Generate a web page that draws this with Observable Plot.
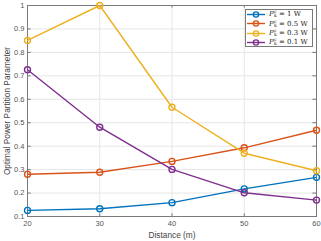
<!DOCTYPE html>
<html><head><meta charset="utf-8">
<script src="https://cdn.jsdelivr.net/npm/d3@7"></script>
<script src="https://cdn.jsdelivr.net/npm/@observablehq/plot@0.6"></script>
<style>
body{margin:0;background:#fff;}
#wrap{position:relative;width:321px;height:241px;}
#legend{position:absolute;left:245px;top:9px;width:68px;height:38px;border:1px solid #7a7a7a;background:#fff;font-family:"DejaVu Serif","Liberation Serif",serif;font-size:7px;color:#222;box-sizing:border-box;}
.row{position:absolute;left:0;height:9px;display:flex;align-items:center;}
.lab{margin-left:3px;white-space:nowrap;}
.ss{display:inline-flex;flex-direction:column;font-size:4.5px;line-height:4px;vertical-align:middle;margin-left:0.3px;}
</style></head>
<body><div id="wrap"></div>
<script>
const distances = [20, 30, 40, 50, 60];
const seriesNames = ["1 W", "0.5 W", "0.3 W", "0.1 W"];
const seriesColors = ["#0072BD", "#D95319", "#EDB120", "#7E2F8E"];
const p1W   = [0.126, 0.133, 0.159, 0.218, 0.267];
const p05W  = [0.280, 0.289, 0.335, 0.393, 0.468];
const p03W  = [0.851, 1.000, 0.566, 0.370, 0.295];
const p01W  = [0.726, 0.481, 0.301, 0.201, 0.170];
const xTicks = [20, 30, 40, 50, 60];
const yTicks = [0.1, 0.2, 0.3, 0.4, 0.5, 0.6, 0.7, 0.8, 0.9, 1];

const allSeries = [p1W, p05W, p03W, p01W];
const data = [];
allSeries.forEach((vals, i) => vals.forEach((v, j) => data.push({x: distances[j], y: v, s: seriesNames[i]})));

const tickLenX = 0.5, tickLenY = 0.011;
const plot = Plot.plot({
  width: 321, height: 241,
  marginLeft: 27, marginRight: 5, marginTop: 5, marginBottom: 25,
  style: {fontFamily: "'Liberation Sans', Arial, sans-serif", fontSize: "7.5px", color: "#555", background: "#fff"},
  x: {domain: [20, 60], ticks: xTicks, tickSize: 0, tickPadding: 4, label: "Distance (m)", labelAnchor: "center", labelOffset: 21, labelArrow: "none", grid: false},
  y: {domain: [0.1, 1], ticks: yTicks, tickSize: 0, tickPadding: 3, tickFormat: d => String(+d.toFixed(1)), label: "Optimal Power Partition Parameter", labelAnchor: "center", labelOffset: 23, labelArrow: "none"},
  color: {domain: seriesNames, range: seriesColors},
  marks: [
    Plot.gridX(xTicks, {stroke: "#e6e6e6", strokeOpacity: 1}),
    Plot.gridY(yTicks, {stroke: "#e6e6e6", strokeOpacity: 1}),
    Plot.ruleX(xTicks, {x: d => d, y1: 0.1, y2: 0.1 + tickLenY, stroke: "#777"}),
    Plot.ruleX(xTicks, {x: d => d, y1: 1, y2: 1 - tickLenY, stroke: "#777"}),
    Plot.ruleY(yTicks, {y: d => d, x1: 20, x2: 20 + tickLenX, stroke: "#777"}),
    Plot.ruleY(yTicks, {y: d => d, x1: 60, x2: 60 - tickLenX, stroke: "#777"}),
    Plot.frame({stroke: "#7a7a7a"}),
    Plot.line(data, {x: "x", y: "y", z: "s", stroke: "s", strokeWidth: 1.4}),
    Plot.dot(data, {x: "x", y: "y", stroke: "s", fill: "none", r: 3, strokeWidth: 1.4})
  ]
});
plot.querySelectorAll('[aria-label="x-axis label"] text, [aria-label="y-axis label"] text').forEach(t => { t.style.fontSize = "8.3px"; t.style.fill = "#444"; });
const wrap = document.getElementById("wrap");
wrap.appendChild(plot);

const leg = document.createElement("div");
leg.id = "legend";
seriesNames.forEach((n, i) => {
  const row = document.createElement("div");
  row.className = "row";
  row.style.top = (i * 9.4 - 0.3) + "px";
  row.innerHTML = `<svg width="20" height="9"><line x1="1" x2="19" y1="4.5" y2="4.5" stroke="${seriesColors[i]}" stroke-width="1.4"/><circle cx="10" cy="4.5" r="2.6" fill="none" stroke="${seriesColors[i]}" stroke-width="1.4"/></svg><span class="lab"><i>P</i><span class="ss"><span>c</span><span>k</span></span> = ${n}</span>`;
  leg.appendChild(row);
});
wrap.appendChild(leg);
</script></body></html>
